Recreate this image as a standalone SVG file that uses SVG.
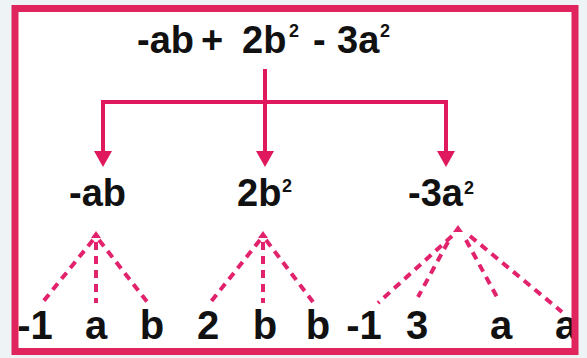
<svg xmlns="http://www.w3.org/2000/svg" width="587" height="358" viewBox="0 0 587 358">
<defs>
<style>
.t{font-family:"Liberation Sans",Arial,sans-serif;font-weight:bold;fill:#111;font-size:38px}
.b{font-size:40px}
.s{font-size:18px}
.c{fill:none;stroke:#e0195f;stroke-width:4}
.d{fill:none;stroke:#e2226c;stroke-width:4;stroke-dasharray:8 6}
.tip{fill:#e2226c}
.ah{fill:#e0195f}
</style>
</defs>
<rect x="0" y="0" width="587" height="358" fill="#eef3f6"/>
<rect x="15" y="8.5" width="560" height="343" fill="#ffffff"/>

<g id="root">
<text class="t" y="53"><tspan x="137">-ab</tspan><tspan x="201">+</tspan><tspan x="242">2b</tspan><tspan class="s" x="289" y="37">2</tspan><tspan x="313" y="53">-</tspan><tspan x="337">3a</tspan><tspan class="s" x="380" y="37">2</tspan></text>
</g>

<g id="connectors">
<line class="c" x1="265" y1="69" x2="265" y2="154"/>
<polyline class="c" points="103,154 103,102 446,102 446,154"/>
<polygon class="ah" points="94,151 112,151 103,167"/>
<polygon class="ah" points="256,151 274,151 265,167"/>
<polygon class="ah" points="437,151 455,151 446,167"/>
</g>

<g id="term-ab">
<text class="t" x="69" y="206">-ab</text>
</g>
<g id="term-2b2">
<text class="t" y="206"><tspan x="237">2b</tspan><tspan class="s" x="282" y="192">2</tspan></text>
</g>
<g id="term-3a2">
<text class="t" y="206"><tspan x="408">-3a</tspan><tspan class="s" x="464" y="194">2</tspan></text>
</g>

<g id="factor-links">
<polygon class="tip" points="96,231 91,238 101,238"/>
<line class="d" x1="93" y1="240" x2="42" y2="303"/>
<line class="d" x1="96" y1="242" x2="96" y2="303"/>
<line class="d" x1="99" y1="240" x2="148" y2="303"/>
<polygon class="tip" points="263,231 258,238 268,238"/>
<line class="d" x1="260" y1="240" x2="210" y2="303"/>
<line class="d" x1="263" y1="242" x2="263" y2="303"/>
<line class="d" x1="266" y1="240" x2="313" y2="302"/>
<polygon class="tip" points="458,225 453,232 463,232"/>
<line class="d" x1="452" y1="236" x2="378" y2="303"/>
<line class="d" x1="448" y1="242" x2="418" y2="297"/>
<line class="d" x1="466" y1="240" x2="497" y2="297"/>
<line class="d" x1="470" y1="236" x2="562" y2="312"/>
</g>

<g id="factors">
<text class="t b" text-anchor="middle" y="339"><tspan x="35">-1</tspan><tspan x="96">a</tspan><tspan x="152">b</tspan><tspan x="208">2</tspan><tspan x="265">b</tspan><tspan x="318">b</tspan><tspan x="364">-1</tspan><tspan x="417">3</tspan><tspan x="501">a</tspan><tspan x="566">a</tspan></text>
</g>

<rect x="15" y="8.5" width="560" height="343" fill="none" stroke="#e0245e" stroke-width="7"/>
</svg>
